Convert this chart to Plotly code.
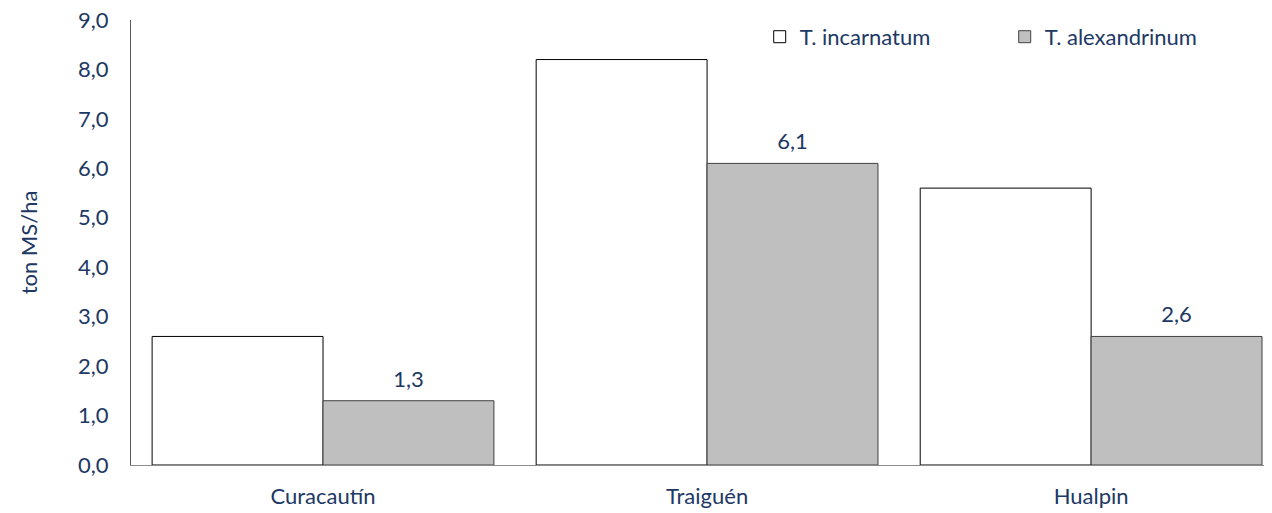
import plotly.graph_objects as go

categories = ["Curacautín", "Traiguén", "Hualpin"]
incarnatum = [2.6, 8.2, 5.6]
alexandrinum = [1.3, 6.1, 2.6]
y_ticks = [0, 1, 2, 3, 4, 5, 6, 7, 8, 9]

navy = "#203864"
font_family = "Lato, 'Open Sans', sans-serif"
fs = 22

fig = go.Figure()
fig.add_trace(go.Bar(
    name="T. incarnatum", x=categories, y=incarnatum, offsetgroup="a",
    marker=dict(color="#FFFFFF", line=dict(color="#000000", width=1)),
))
fig.add_trace(go.Bar(
    name="T. alexandrinum", x=categories, y=alexandrinum, offsetgroup="b",
    marker=dict(color="#BFBFBF", line=dict(color="#404040", width=1)),
))
# label helpers (grouped like the bars)
fig.add_trace(go.Scatter(
    x=categories, y=incarnatum, offsetgroup="a", mode="markers",
    marker=dict(size=1, opacity=0), showlegend=False, hoverinfo="skip",
))
fig.add_trace(go.Scatter(
    x=categories, y=alexandrinum, offsetgroup="b", mode="markers+text",
    text=[f"{v:.1f}".replace(".", ",") for v in alexandrinum],
    textposition="top center",
    textfont=dict(color=navy, size=fs, family=font_family),
    marker=dict(size=12, opacity=0), showlegend=False, hoverinfo="skip",
    cliponaxis=False,
))

fig.update_layout(
    width=1264, height=505,
    margin=dict(l=123, r=0, t=12, b=48, autoexpand=False),
    paper_bgcolor="white", plot_bgcolor="white",
    barmode="group", bargap=0.11, bargroupgap=0,
    scattermode="group", scattergap=0.11,
    separators=",.",
    font=dict(family=font_family, color=navy, size=fs),
    showlegend=True,
    legend=dict(
        orientation="h", x=0.551, y=0.962, xanchor="left", yanchor="middle",
        font=dict(size=fs, color=navy, family=font_family),
        bgcolor="rgba(0,0,0,0)", itemwidth=30, entrywidth=200,
        traceorder="normal",
    ),
    xaxis=dict(
        range=[-0.5, 2.471], showgrid=False, showline=True, automargin=False,
        linecolor="#8C8C8C", linewidth=1, ticks="",
        tickfont=dict(size=fs, color=navy), ticklabelstandoff=12,
    ),
    yaxis=dict(
        range=[0, 9], tickvals=y_ticks, tickformat=".1f", automargin=False,
        showgrid=False, zeroline=False, showline=True,
        linecolor="#595959", linewidth=1, ticks="",
        ticklabeloverflow="allow",
        tickfont=dict(size=fs, color=navy), ticklabelstandoff=17,
        title=dict(text="ton MS/ha", font=dict(size=fs, color=navy), standoff=34),
    ),
)

fig.write_html("out.html")
